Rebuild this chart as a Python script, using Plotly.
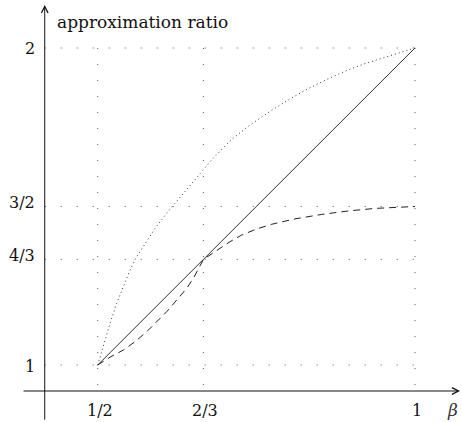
import plotly.graph_objects as go

# ---- data ----
beta_line = [0.5, 1.0]
ratio_line = [1.0, 2.0]

beta_dotted = [0.5, 0.51, 0.52, 0.53, 0.54, 0.55, 0.56, 0.575, 0.59, 0.61, 0.625,
               0.65, 0.68, 0.71, 0.74, 0.77, 0.80, 0.83, 0.86, 0.89, 0.92, 0.95,
               0.975, 1.0]
ratio_dotted = [1.0, 1.07, 1.135, 1.195, 1.248, 1.295, 1.337, 1.385, 1.43, 1.482, 1.518,
                1.578, 1.648, 1.71, 1.757, 1.798, 1.836, 1.870, 1.900, 1.927, 1.950, 1.969,
                1.984, 2.0]

beta_dashed = [0.5, 0.5205, 0.5403, 0.5588, 0.5772, 0.5930, 0.6087, 0.6245, 0.6402,
               0.6506, 0.6612, 0.6667, 0.6927, 0.7085, 0.7269, 0.7505, 0.7742, 0.8109,
               0.8530, 0.8949, 0.9370, 0.9737, 1.0]
ratio_dashed = [1.0, 1.026, 1.047, 1.0735, 1.105, 1.137, 1.168, 1.205, 1.242,
                1.273, 1.310, 1.3333, 1.368, 1.389, 1.410, 1.429, 1.444, 1.461,
                1.475, 1.486, 1.494, 1.497, 1.5]

x_ticks = [0.5, 2 / 3, 1.0]
x_tick_labels = ["1/2", "2/3", "1"]
y_ticks = [1.0, 4 / 3, 1.5, 2.0]
y_tick_labels = ["1", "4/3", "3/2", "2"]

x_title = "<i>β</i>"
y_title = "approximation ratio"

# ---- layout constants ----
X_RANGE = [0.3460, 1.0741]
Y_RANGE = [0.8202, 2.1514]
AXIS_X = 0.4165      # where the vertical axis sits (in beta units)
AXIS_Y = 0.918       # where the horizontal axis sits (in ratio units)
X_AXIS_START, X_AXIS_END = 0.3807, 1.0709
Y_AXIS_START, Y_AXIS_END = 0.823, 2.136

FONT = "DejaVu Serif"
GRID_COLOR = "#555555"

fig = go.Figure()

# dotted grid lines
for yv in y_ticks:
    fig.add_trace(go.Scatter(x=[AXIS_X, x_ticks[-1]], y=[yv, yv], mode="lines",
                             line=dict(color=GRID_COLOR, width=1, dash="1px,15px"),
                             hoverinfo="skip", showlegend=False))
for xv in x_ticks:
    fig.add_trace(go.Scatter(x=[xv, xv], y=[y_ticks[-1], AXIS_Y], mode="lines",
                             line=dict(color=GRID_COLOR, width=1, dash="1px,15px"),
                             hoverinfo="skip", showlegend=False))

# curves
fig.add_trace(go.Scatter(x=beta_dotted, y=ratio_dotted, mode="lines",
                         line=dict(color="#333333", width=1, dash="1px,3px"),
                         showlegend=False))
fig.add_trace(go.Scatter(x=beta_dashed, y=ratio_dashed, mode="lines",
                         line=dict(color="#222222", width=1, dash="7px,5px"),
                         showlegend=False))
fig.add_trace(go.Scatter(x=beta_line, y=ratio_line, mode="lines",
                         line=dict(color="#333333", width=1),
                         showlegend=False))

annotations = []
# axes with arrows
annotations.append(dict(x=X_AXIS_END, y=AXIS_Y, ax=X_AXIS_START, ay=AXIS_Y,
                        xref="x", yref="y", axref="x", ayref="y", text="",
                        showarrow=True, arrowhead=5, arrowsize=1.3, arrowwidth=1,
                        arrowcolor="#111111", standoff=0))
annotations.append(dict(x=AXIS_X, y=Y_AXIS_END, ax=AXIS_X, ay=Y_AXIS_START,
                        xref="x", yref="y", axref="x", ayref="y", text="",
                        showarrow=True, arrowhead=5, arrowsize=1.3, arrowwidth=1,
                        arrowcolor="#111111", standoff=0))

# tick labels
for xv, lab in zip(x_ticks, x_tick_labels):
    annotations.append(dict(x=xv, y=AXIS_Y, xref="x", yref="y", text=lab,
                            showarrow=False, yshift=-19, xshift=2,
                            font=dict(family=FONT, size=16, color="#111111")))
for yv, lab in zip(y_ticks, y_tick_labels):
    shift = 4 if "/" in lab else -1
    annotations.append(dict(x=AXIS_X, y=yv, xref="x", yref="y", text=lab,
                            showarrow=False, xanchor="right", xshift=-8, yshift=shift,
                            font=dict(family=FONT, size=16, color="#111111")))

# axis titles
annotations.append(dict(x=AXIS_X, y=Y_AXIS_END, xref="x", yref="y", text=y_title,
                        showarrow=False, xanchor="left", yshift=-17, xshift=10,
                        font=dict(family=FONT, size=17, color="#111111")))
annotations.append(dict(x=X_AXIS_END, y=AXIS_Y, xref="x", yref="y", text=x_title,
                        showarrow=False, xanchor="center", yshift=-19, xshift=-7,
                        font=dict(family=FONT, size=17, color="#333333")))

fig.update_layout(
    width=462, height=422,
    margin=dict(l=0, r=0, t=0, b=0),
    paper_bgcolor="white", plot_bgcolor="white",
    xaxis=dict(range=X_RANGE, visible=False, fixedrange=True),
    yaxis=dict(range=Y_RANGE, visible=False, fixedrange=True),
    annotations=annotations,
    showlegend=False,
    hovermode=False,
)

fig.write_html("out.html",
               config={"displayModeBar": False, "staticPlot": True},
               post_script="document.body.style.margin='0px';"
                           "document.body.style.overflow='hidden';")
